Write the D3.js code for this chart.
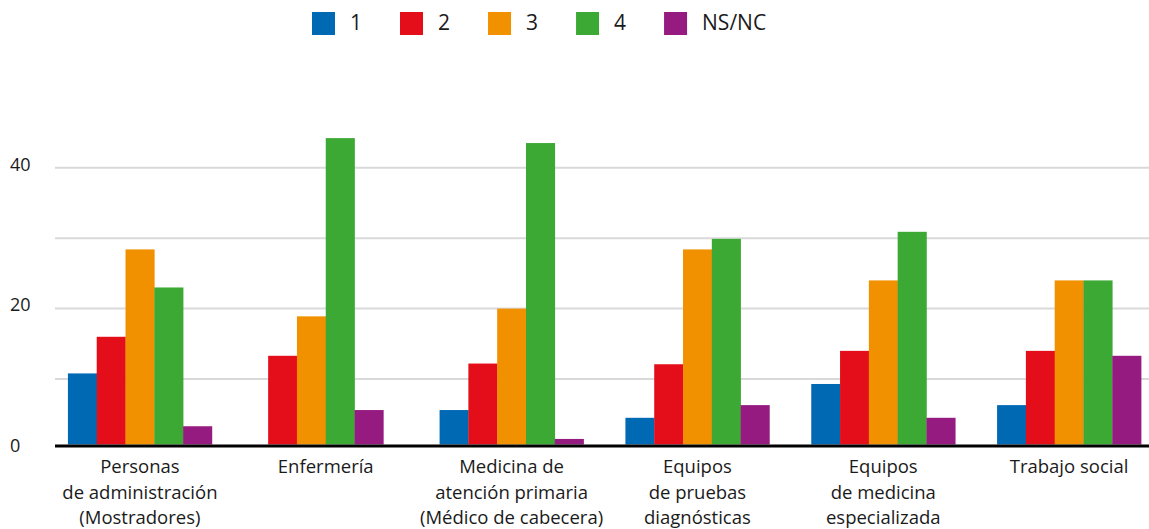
<!DOCTYPE html>
<html>
<head>
<meta charset="utf-8">
<script src="https://cdn.jsdelivr.net/npm/d3@7"></script>
<style>
  html, body { margin: 0; padding: 0; background: #fff; }
  svg { display: block; }
  text { font-family: "Open Sans", "Noto Sans", sans-serif; fill: #1a1a1a; }
</style>
</head>
<body>
<svg id="chart" width="1149" height="529"></svg>
<script>
// Survey ratings per service area
const categories = [
  "Personas\nde administración\n(Mostradores)",
  "Enfermería",
  "Medicina de\natención primaria\n(Médico de cabecera)",
  "Equipos\nde pruebas\ndiagnósticas",
  "Equipos\nde medicina\nespecializada",
  "Trabajo social"
];
const seriesNames = ["1", "2", "3", "4", "NS/NC"];
const values1 = [10.8, null, 5.6, 4.5, 9.3, 6.3];
const values2 = [16.0, 13.3, 12.2, 12.1, 14.0, 14.0];
const values3 = [28.4, 18.9, 20.0, 28.4, 24.0, 24.0];
const values4 = [23.0, 44.2, 43.5, 29.9, 30.9, 24.0];
const valuesNsNc = [3.3, 5.6, 1.5, 6.3, 4.5, 13.3];
const gridTicks = [10, 20, 30, 40];
const labelTicks = [0, 20, 40];
const colors = ["#0069b4", "#e30e19", "#f29100", "#3ca935", "#951b80"];

const seriesValues = [values1, values2, values3, values4, valuesNsNc];

const svg = d3.select("#chart");
const W = 1149;
const plotLeft = 55;

const y = d3.scaleLinear().domain([0, 40]).range([449.5, 167.7]);
const x = d3.scaleBand().domain(categories).range([47, 1162]);
const color = d3.scaleOrdinal().domain(seriesNames).range(colors);
const slot = 28.8;
const axisY = 446;

// gridlines
svg.append("g").selectAll("line").data(gridTicks).join("line")
  .attr("x1", plotLeft).attr("x2", W)
  .attr("y1", d => y(d)).attr("y2", d => y(d))
  .attr("stroke", "#d9d9d9").attr("stroke-width", 2);

// y tick labels
svg.append("g").selectAll("text").data(labelTicks).join("text")
  .attr("x", 10).attr("y", d => y(d) - 2)
  .attr("dominant-baseline", "middle")
  .style("font-size", "18px")
  .text(d => d);

// bars: the series present in each category are centred on it
const barData = [];
categories.forEach((c, ci) => {
  const present = seriesNames
    .map((s, si) => ({ s, v: seriesValues[si][ci] }))
    .filter(d => d.v != null);
  const cx = x(c) + x.bandwidth() / 2;
  const start = cx - present.length * slot / 2;
  present.forEach((d, k) => barData.push({ c, s: d.s, v: d.v, x0: start + k * slot }));
});

svg.append("g").selectAll("rect").data(barData).join("rect")
  .attr("x", d => d.x0)
  .attr("width", slot + 0.3)
  .attr("y", d => y(d.v))
  .attr("height", d => Math.max(0, axisY - 1.5 - y(d.v)))
  .attr("fill", d => color(d.s));

// baseline
svg.append("line")
  .attr("x1", plotLeft).attr("x2", W)
  .attr("y1", axisY).attr("y2", axisY)
  .attr("stroke", "#000").attr("stroke-width", 3);

// category labels
const lab = svg.append("g").selectAll("text").data(categories).join("text")
  .attr("x", d => x(d) + x.bandwidth() / 2)
  .attr("y", 473)
  .attr("text-anchor", "middle")
  .style("font-size", "18.5px");
lab.each(function (d) {
  const t = d3.select(this);
  d.split("\n").forEach((line, i) => {
    t.append("tspan")
      .attr("x", x(d) + x.bandwidth() / 2)
      .attr("dy", i === 0 ? 0 : 25.5)
      .text(line);
  });
});

// legend
const legend = svg.append("g");
let lx = 312;
seriesNames.forEach(s => {
  const g = legend.append("g").attr("transform", `translate(${lx},0)`);
  g.append("rect").attr("x", 0).attr("y", 12).attr("width", 23).attr("height", 23)
    .attr("fill", color(s));
  const t = g.append("text").attr("x", 38).attr("y", 24)
    .attr("dominant-baseline", "middle")
    .style("font-size", "21px")
    .text(s);
  lx += 38 + t.node().getComputedTextLength() + 38;
});
</script>
</body>
</html>
